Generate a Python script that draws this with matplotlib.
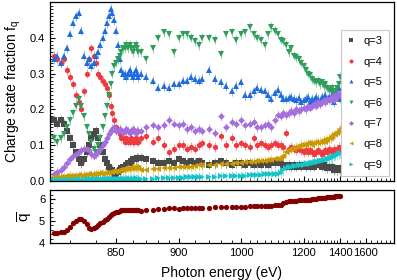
import numpy as np
import matplotlib
matplotlib.use("Agg")
import matplotlib.pyplot as plt
from matplotlib.colors import to_rgba
from matplotlib.ticker import FixedLocator, MultipleLocator, NullFormatter

plt.rcParams['font.family'] = ['Liberation Sans', 'DejaVu Sans']

# fine scan (eV)
e_fine = [825, 826, 827, 828, 829, 830, 831, 832, 833, 834,
          835, 836, 837, 838, 839, 840, 841, 842, 843, 844,
          845, 846, 847, 848, 849, 850, 851, 852, 853, 854,
          855, 856, 857, 858, 859, 860, 861, 862, 863, 864]
# coarse scan (eV)
e_coarse = [866, 870, 875, 880, 885, 890, 895, 900, 905, 910,
            915, 920, 925, 930, 940, 950, 960, 970, 980, 990,
            1000, 1010, 1020, 1030, 1040, 1050, 1060, 1070, 1080, 1090,
            1100, 1110, 1120, 1130, 1140, 1150, 1160, 1170, 1180, 1190,
            1200, 1210, 1220, 1230, 1240, 1250, 1260, 1270, 1280, 1290,
            1300, 1310, 1320, 1330, 1340, 1350, 1360, 1370, 1380, 1390,
            1400]

q3_fine = [0.17, 0.16, 0.17, 0.16, 0.14, 0.12, 0.10, 0.08, 0.06, 0.05,
           0.06, 0.08, 0.10, 0.12, 0.13, 0.14, 0.12, 0.10, 0.08, 0.06,
           0.05, 0.04, 0.03, 0.03, 0.02, 0.02, 0.025, 0.03, 0.035, 0.04,
           0.04, 0.045, 0.05, 0.05, 0.055, 0.06, 0.06, 0.06, 0.065, 0.065]
q3_coarse = [0.065, 0.06, 0.055, 0.05, 0.05, 0.055, 0.05, 0.06, 0.055, 0.05,
             0.055, 0.05, 0.055, 0.05, 0.045, 0.05, 0.055, 0.05, 0.045, 0.05,
             0.05, 0.045, 0.05, 0.045, 0.05, 0.045, 0.05, 0.045, 0.05, 0.05,
             0.055, 0.05, 0.045, 0.04, 0.045, 0.04, 0.045, 0.04, 0.045, 0.04,
             0.045, 0.04, 0.045, 0.04, 0.045, 0.04, 0.045, 0.05, 0.045, 0.04,
             0.045, 0.04, 0.035, 0.04, 0.035, 0.04, 0.03, 0.035, 0.03, 0.035,
             0.03]

q4_fine = [0.35, 0.34, 0.33, 0.34, 0.31, 0.29, 0.27, 0.24, 0.22, 0.20,
           0.25, 0.30, 0.34, 0.37, 0.35, 0.33, 0.30, 0.29, 0.28, 0.27,
           0.26, 0.24, 0.21, 0.19, 0.17, 0.15, 0.14, 0.13, 0.12, 0.12,
           0.11, 0.12, 0.11, 0.11, 0.12, 0.11, 0.11, 0.12, 0.11, 0.11]
q4_coarse = [0.12, 0.125, 0.11, 0.12, 0.10, 0.08, 0.09, 0.10, 0.10, 0.09,
             0.095, 0.09, 0.10, 0.105, 0.10, 0.095, 0.125, 0.10, 0.12, 0.10,
             0.105, 0.10, 0.095, 0.12, 0.10, 0.105, 0.10, 0.095, 0.10, 0.105,
             0.10, 0.10, 0.095, 0.135, 0.09, 0.095, 0.09, 0.085, 0.09, 0.085,
             0.08, 0.085, 0.08, 0.085, 0.08, 0.075, 0.08, 0.085, 0.08, 0.075,
             0.08, 0.085, 0.08, 0.09, 0.085, 0.08, 0.09, 0.085, 0.09, 0.095,
             0.085]

q5_fine = [0.34, 0.35, 0.33, 0.35, 0.37, 0.41, 0.44, 0.46, 0.47, 0.42,
           0.35, 0.33, 0.34, 0.32, 0.33, 0.35, 0.36, 0.38, 0.40, 0.42,
           0.44, 0.46, 0.48, 0.47, 0.45, 0.42, 0.38, 0.34, 0.31, 0.30,
           0.30, 0.29, 0.30, 0.31, 0.30, 0.29, 0.30, 0.31, 0.30, 0.29]
q5_coarse = [0.30, 0.29, 0.28, 0.26, 0.265, 0.26, 0.27, 0.27, 0.28, 0.28,
             0.29, 0.285, 0.28, 0.285, 0.31, 0.285, 0.275, 0.265, 0.25, 0.265,
             0.275, 0.24, 0.24, 0.25, 0.26, 0.255, 0.25, 0.24, 0.23, 0.245,
             0.255, 0.24, 0.23, 0.228, 0.232, 0.235, 0.23, 0.225, 0.232, 0.22,
             0.225, 0.23, 0.235, 0.22, 0.23, 0.225, 0.235, 0.23, 0.22, 0.235,
             0.23, 0.24, 0.225, 0.235, 0.23, 0.24, 0.22, 0.25, 0.24, 0.26,
             0.23]

q6_fine = [0.12, 0.11, 0.12, 0.13, 0.15, 0.17, 0.19, 0.21, 0.23, 0.21,
           0.18, 0.15, 0.13, 0.11, 0.09, 0.08, 0.10, 0.12, 0.15, 0.18,
           0.21, 0.24, 0.27, 0.30, 0.32, 0.33, 0.34, 0.35, 0.36, 0.37,
           0.37, 0.38, 0.37, 0.38, 0.37, 0.36, 0.37, 0.38, 0.37, 0.36]
q6_coarse = [0.36, 0.34, 0.37, 0.40, 0.415, 0.41, 0.36, 0.40, 0.41, 0.41,
             0.40, 0.39, 0.38, 0.40, 0.40, 0.395, 0.355, 0.41, 0.415, 0.395,
             0.41, 0.415, 0.43, 0.41, 0.40, 0.395, 0.38, 0.41, 0.43, 0.42,
             0.41, 0.395, 0.39, 0.38, 0.36, 0.37, 0.35, 0.345, 0.34, 0.33,
             0.32, 0.31, 0.30, 0.295, 0.285, 0.28, 0.275, 0.28, 0.27, 0.275,
             0.265, 0.27, 0.26, 0.255, 0.25, 0.26, 0.245, 0.25, 0.26, 0.27,
             0.29]

q7_fine = [0.02, 0.025, 0.03, 0.04, 0.05, 0.06, 0.07, 0.075, 0.08, 0.085,
           0.09, 0.09, 0.085, 0.075, 0.07, 0.075, 0.08, 0.09, 0.10, 0.11,
           0.12, 0.13, 0.14, 0.145, 0.15, 0.14, 0.14, 0.145, 0.14, 0.135,
           0.14, 0.145, 0.14, 0.135, 0.14, 0.145, 0.14, 0.135, 0.14, 0.14]
q7_coarse = [0.14, 0.15, 0.155, 0.15, 0.155, 0.17, 0.16, 0.155, 0.16, 0.145,
             0.15, 0.14, 0.145, 0.14, 0.145, 0.135, 0.18, 0.15, 0.165, 0.16,
             0.17, 0.155, 0.16, 0.165, 0.15, 0.15, 0.155, 0.16, 0.15, 0.17,
             0.185, 0.18, 0.19, 0.185, 0.19, 0.195, 0.19, 0.20, 0.195, 0.20,
             0.205, 0.20, 0.21, 0.205, 0.21, 0.215, 0.21, 0.22, 0.215, 0.22,
             0.225, 0.22, 0.23, 0.225, 0.23, 0.235, 0.225, 0.24, 0.235, 0.245,
             0.24]

q8_fine = [0.010, 0.011, 0.012, 0.011, 0.013, 0.014, 0.013, 0.015, 0.016, 0.015,
           0.017, 0.016, 0.018, 0.017, 0.019, 0.020, 0.019, 0.021, 0.020, 0.022,
           0.023, 0.022, 0.025, 0.024, 0.027, 0.026, 0.029, 0.030, 0.031, 0.030,
           0.033, 0.035, 0.034, 0.036, 0.035, 0.037, 0.036, 0.038, 0.037, 0.036]
q8_coarse = [0.03, 0.03, 0.032, 0.033, 0.035, 0.035, 0.037, 0.038, 0.04, 0.04,
             0.04, 0.042, 0.043, 0.043, 0.045, 0.045, 0.047, 0.048, 0.048, 0.05,
             0.05, 0.052, 0.052, 0.053, 0.055, 0.055, 0.056, 0.057, 0.058, 0.06,
             0.06, 0.062, 0.07, 0.08, 0.085, 0.09, 0.09, 0.095, 0.095, 0.10,
             0.10, 0.10, 0.105, 0.105, 0.10, 0.105, 0.11, 0.105, 0.11, 0.11,
             0.115, 0.11, 0.115, 0.12, 0.12, 0.125, 0.13, 0.13, 0.135, 0.14,
             0.145]

q9_fine = [0.002, 0.003, 0.002, 0.003, 0.003, 0.002, 0.003, 0.003, 0.004, 0.003,
           0.003, 0.004, 0.003, 0.004, 0.004, 0.003, 0.004, 0.004, 0.005, 0.004,
           0.004, 0.005, 0.004, 0.005, 0.005, 0.004, 0.005, 0.005, 0.005, 0.004,
           0.005, 0.005, 0.006, 0.005, 0.005, 0.006, 0.005, 0.006, 0.006, 0.005]
q9_coarse = [0.005, 0.006, 0.006, 0.007, 0.007, 0.008, 0.008, 0.009, 0.009, 0.01,
             0.01, 0.01, 0.011, 0.011, 0.012, 0.012, 0.013, 0.013, 0.014, 0.014,
             0.015, 0.015, 0.016, 0.016, 0.017, 0.017, 0.018, 0.018, 0.019, 0.02,
             0.02, 0.022, 0.03, 0.037, 0.04, 0.04, 0.042, 0.042, 0.043, 0.044,
             0.045, 0.046, 0.047, 0.048, 0.05, 0.05, 0.052, 0.053, 0.055, 0.056,
             0.057, 0.058, 0.06, 0.062, 0.064, 0.066, 0.068, 0.07, 0.072, 0.075,
             0.078]

qbar_fine = [4.45, 4.45, 4.5, 4.5, 4.6, 4.75, 4.9, 5.0, 5.1, 5.1,
             5.0, 4.85, 4.7, 4.65, 4.7, 4.75, 4.8, 4.9, 4.95, 5.05,
             5.1, 5.2, 5.25, 5.3, 5.35, 5.4, 5.42, 5.45, 5.48, 5.5,
             5.5, 5.52, 5.5, 5.52, 5.5, 5.48, 5.5, 5.52, 5.5, 5.48]
qbar_coarse = [5.45, 5.5, 5.5, 5.55, 5.55, 5.6, 5.6, 5.55, 5.57, 5.58,
               5.6, 5.58, 5.6, 5.6, 5.6, 5.62, 5.62, 5.63, 5.63, 5.64,
               5.65, 5.65, 5.66, 5.67, 5.66, 5.68, 5.68, 5.7, 5.7, 5.72,
               5.72, 5.74, 5.8, 5.88, 5.9, 5.9, 5.92, 5.92, 5.93, 5.94,
               5.95, 5.95, 5.97, 5.97, 5.98, 6.0, 6.0, 6.02, 6.02, 6.03,
               6.05, 6.05, 6.07, 6.08, 6.08, 6.1, 6.1, 6.12, 6.13, 6.15,
               6.15]

err_frac = 0.013
err_qbar = 0.07

series = [
    ('q=3', q3_fine, q3_coarse, 's', '#4a4a4a'),
    ('q=4', q4_fine, q4_coarse, 'o', '#ee3a3f'),
    ('q=5', q5_fine, q5_coarse, '^', '#1f6ddc'),
    ('q=6', q6_fine, q6_coarse, 'v', '#2f9e5c'),
    ('q=7', q7_fine, q7_coarse, 'D', '#a46fdc'),
    ('q=8', q8_fine, q8_coarse, '<', '#c99a05'),
    ('q=9', q9_fine, q9_coarse, '>', '#14c4c8'),
]

energy = np.array(e_fine + e_coarse, dtype=float)


def fwd(x):
    return np.log(np.clip(np.asarray(x, dtype=float) - 800.0, 1e-3, None))


def inv(y):
    return np.exp(y) + 800.0


fig = plt.figure(figsize=(3.97, 2.8), dpi=100)
ax1 = fig.add_axes([0.126, 0.354, 0.866, 0.639])
ax2 = fig.add_axes([0.126, 0.132, 0.866, 0.189], sharex=ax1)

handles = []
labels = []
for label, fine, coarse, mk, col in series:
    vals = np.array(fine + coarse)
    ms = 3.4 if mk == 'D' else 3.8
    cont = ax1.errorbar(energy, vals, yerr=err_frac, fmt=mk, ms=ms, mew=0,
                        color=col, ecolor=to_rgba(col, 0.5), elinewidth=0.7,
                        capsize=1.3, capthick=0.7)
    handles.append(cont[0])
    labels.append(label)

qbar = np.array(qbar_fine + qbar_coarse)
ax2.errorbar(energy, qbar, yerr=err_qbar, fmt='o', ms=3.8, mew=0,
             color='#820000', ecolor=to_rgba('#c0606a', 0.55), elinewidth=0.7,
             capsize=1.3, capthick=0.7)

ax1.set_xscale('function', functions=(fwd, inv))
ax1.set_xlim(824, 1890)
ax1.set_ylim(0, 0.5)
ax2.set_ylim(4, 6.4)

major_x = [850, 900, 1000, 1200, 1400, 1600]
minor_x = (list(range(830, 900, 10)) + list(range(920, 1400, 20))
           + list(range(1450, 1900, 50)))
for ax in (ax1, ax2):
    ax.xaxis.set_major_locator(FixedLocator(major_x))
    ax.xaxis.set_minor_locator(FixedLocator(minor_x))
    ax.xaxis.set_minor_formatter(NullFormatter())
    ax.tick_params(which='both', direction='in', labelsize=8)
    ax.tick_params(which='major', length=3.5, width=0.8)
    ax.tick_params(which='minor', length=2, width=0.6)
    for s in ax.spines.values():
        s.set_linewidth(0.9)

ax2.xaxis.set_major_formatter(plt.FuncFormatter(lambda v, p: '%d' % v))
ax1.tick_params(labelbottom=False)

ax1.yaxis.set_major_locator(FixedLocator([0.0, 0.1, 0.2, 0.3, 0.4]))
ax1.yaxis.set_major_formatter(plt.FuncFormatter(lambda v, p: '%.1f' % v))
ax1.yaxis.set_minor_locator(MultipleLocator(0.01))
ax2.yaxis.set_major_locator(FixedLocator([4, 5, 6]))
ax2.yaxis.set_minor_locator(MultipleLocator(0.2))

ax1.set_ylabel('Charge state fraction f$_\\mathregular{q}$', fontsize=10, labelpad=5)
ax2.set_ylabel('$\\overline{\\mathregular{q}}$', fontsize=11, labelpad=3)
ax2.set_xlabel('Photon energy (eV)', fontsize=10, labelpad=6)

leg = ax1.legend(handles, labels, loc='lower right', bbox_to_anchor=(0.99, 0.02),
                 fontsize=8, numpoints=1, markerscale=0.75, handlelength=0.6,
                 handletextpad=0.8, labelspacing=0.95, borderpad=0.6,
                 borderaxespad=0.1, fancybox=False, edgecolor='#c8c8c8',
                 framealpha=1)
leg.get_frame().set_linewidth(0.8)

fig.savefig('out.png', dpi=100)
